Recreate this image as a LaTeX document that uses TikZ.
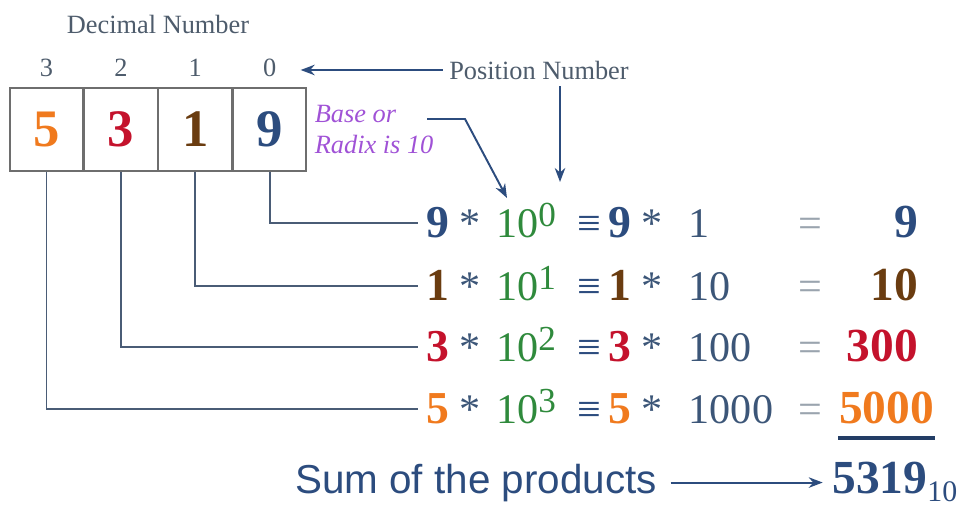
\documentclass[tikz,border=0pt]{standalone}
\usepackage{fontspec}
\setmainfont{Liberation Serif}
\newfontfamily\sumfont{Liberation Sans}
\usetikzlibrary{arrows.meta, positioning}
\definecolor{cfive}{HTML}{F07A1E}
\definecolor{cthree}{HTML}{C4122C}
\definecolor{cone}{HTML}{6A3C10}
\definecolor{cnine}{HTML}{2C4C7E}
\definecolor{cpow}{HTML}{2F8A3C}
\definecolor{cslate}{HTML}{3C5678}
\definecolor{cgrey}{HTML}{4E5C6C}
\definecolor{ceq}{HTML}{9AA4AE}
\definecolor{cradix}{HTML}{A052D6}
\definecolor{cline}{HTML}{4A5C76}
\definecolor{cbox}{HTML}{6E6E6E}
\tikzset{
  every picture/.style={line width=1.1pt},
  cell/.style={draw=cbox, line width=0.8pt, minimum width=1.46cm, minimum height=1.66cm, inner sep=0pt,
    font=\fontsize{30}{31}\selectfont\bfseries, text=#1},
  label/.style={font=\fontsize{15}{18}\selectfont, text=cgrey},
  term/.style={font=\fontsize{24}{28}\selectfont, text=cslate, inner ysep=0pt, inner xsep=4pt,
    text height=16pt, text depth=0pt, anchor=west},
  link/.style={draw=cline, line width=1.1pt},
  pointer/.style={-{Stealth[length=8pt, width=6pt]}, draw=cnine, line width=1.1pt},
}
\begin{document}
\begin{tikzpicture}[x=0.02cm, y=-0.02cm]
  \useasboundingbox (0,0) rectangle (969,506);
  \node[cell=cfive] (c3) at (46.5,129.5) {5};
  \node[cell=cthree, right=0pt of c3] (c2) {3};
  \node[cell=cone, right=0pt of c2] (c1) {1};
  \node[cell=cnine, right=0pt of c1] (c0) {9};
  \foreach \i in {0,...,3}
    \node[label, above=2pt of c\i] (p\i) {\i};
  \node[label] (dnum) at (158,24) {Decimal Number};
  \node[label] (pos) at (539,70) {Position Number};
  \node[anchor=north west, align=left, text=cradix, font=\fontsize{15}{18}\selectfont\itshape] (radix) at (308,98) {Base or\\Radix is 10};
  \draw[pointer, shorten >=10pt] (pos.west) -- (pos.west -| p0.east);
  \coordinate (ptip) at (560,182);
  \draw[pointer] (pos.south -| ptip) -- (ptip);
  \coordinate (bstart) at (427,119);
  \coordinate (bkink) at (465,119);
  \coordinate (btip) at (507,198);
  \draw[pointer] (bstart) -- (bkink) -- (btip);
  \foreach \d/\c/\p/\v/\r/\y/\e in {9/cnine/0/1/9/223/926, 1/cone/1/10/10/286/926, 3/cthree/2/100/300/347/926, 5/cfive/3/1000/5000/409/942}{
    \node[term] (l\p) at (418,\y) {\textcolor{\c}{\fontsize{26}{28}\selectfont\bfseries\d} *\hspace{9pt}\textcolor{cpow}{10\raisebox{6pt}{\fontsize{20}{21}\selectfont\p}}};
    \node[term, anchor=center, text=cnine] (q\p) at (589,\y) {≡};
    \node[term] (v\p) at (600,\y) {\textcolor{\c}{\fontsize{26}{28}\selectfont\bfseries\d} *\hspace{15pt}\v};
    \node[term, anchor=center, text=ceq] (eq\p) at (810,\y) {=};
    \node[term, anchor=east, text=\c, font=\fontsize{27}{30}\selectfont\bfseries] (res\p) at (\e,\y) {\r};
    \draw[link] (c\p.south) |- (l\p.west);
  }
  \draw[draw=cnine!80!black, line width=2pt] ([xshift=4pt, yshift=-8pt]res3.south west) -- ([xshift=-4pt, yshift=-8pt]res3.south east);
  \node[anchor=base, text=cnine, font=\sumfont\fontsize{23}{26}\selectfont] (sum) at (476,493) {Sum of the products};
  \node[anchor=base west, text=cnine, inner xsep=2pt, inner ysep=0pt] (tot) at (828,493) {\fontsize{27}{30}\selectfont\textbf{5319}\fontsize{17}{18}\selectfont\raisebox{-5pt}{10}};
  \draw[pointer, shorten <=4pt, shorten >=3pt] (sum.east) -- (sum.east -| tot.west);
\end{tikzpicture}
\end{document}
